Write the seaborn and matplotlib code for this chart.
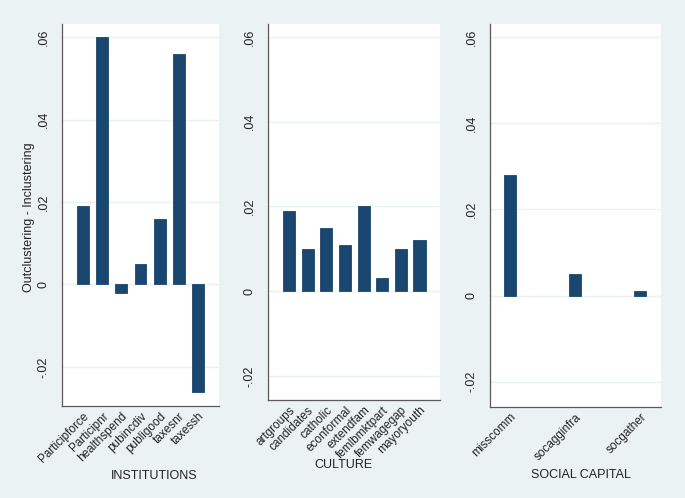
import matplotlib
matplotlib.use("Agg")
import matplotlib.pyplot as plt
import seaborn as sns
import pandas as pd

sns.set_style("white")
plt.rcParams['font.family'] = ['Liberation Sans', 'DejaVu Sans']

inst_cats = ["Participforce", "Participnr", "healthspend", "pubincdiv", "publigood", "taxesnr", "taxessh"]
inst_vals = [0.019, 0.060, -0.002, 0.005, 0.016, 0.056, -0.026]

cult_cats = ["artgroups", "candidates", "catholic", "econformal", "extendfam", "femlbmktpart", "femwagegap", "mayoryouth"]
cult_vals = [0.019, 0.010, 0.015, 0.011, 0.020, 0.003, 0.010, 0.012]

soc_cats = ["misscomm", "socagginfra", "socgather"]
soc_vals = [0.028, 0.005, 0.001]

panel_titles = ["INSTITUTIONS", "CULTURE", "SOCIAL CAPITAL"]
y_ticks = [-0.02, 0, 0.02, 0.04, 0.06]
y_ticklabels = ["-.02", "0", ".02", ".04", ".06"]
y_title = "Outclustering - Inclustering"

BG = "#EAF2F3"
BAR = "#1A476F"
AXC = "#5a5a5a"
TXT = "#222222"

fig = plt.figure(figsize=(6.85, 4.98), dpi=100)
fig.patch.set_facecolor(BG)

W, H = 685.0, 498.0
def pos(x0, x1, y0, y1):
    return [x0 / W, 1 - y1 / H, (x1 - x0) / W, (y1 - y0) / H]

panels = [
    (inst_cats, inst_vals, pos(62, 219, 24, 406), (-0.0295, 0.0632), 0.62, (-1.09, 7.09), (154, 476)),
    (cult_cats, cult_vals, pos(268, 440, 24, 400), (-0.0257, 0.0631), 0.65, (-1.13, 8.10), (343, 465)),
    (soc_cats, soc_vals, pos(490, 661, 24, 407), (-0.0259, 0.0631), 0.18, (-0.31, 2.32), (581, 475)),
]

for i, (cats, vals, rect, ylim, bw, xlim, tpos) in enumerate(panels):
    ax = fig.add_axes(rect)
    df = pd.DataFrame({"cat": cats, "val": vals})
    sns.barplot(data=df, x="cat", y="val", color=BAR, width=bw, ax=ax,
                saturation=1, edgecolor=BAR, linewidth=0.6, zorder=3)
    ax.set_facecolor("white")
    ax.set_ylim(*ylim)
    ax.set_xlim(*xlim)
    ax.set_yticks(y_ticks)
    ax.set_yticklabels(y_ticklabels, rotation=90, va="center", fontsize=9, color=TXT)
    ax.set_xticks(range(len(cats)))
    ax.set_xticklabels(cats, rotation=45, ha="right", rotation_mode="anchor", fontsize=8.5, color=TXT)
    ax.tick_params(axis="y", length=4.3, width=0.8, color=AXC, pad=4.5)
    ax.tick_params(axis="x", length=0, pad=3)
    ax.yaxis.grid(True, color=BG, linewidth=1.0, zorder=0)
    ax.set_axisbelow(True)
    for s in ["top", "right"]:
        ax.spines[s].set_visible(False)
    for s in ["left", "bottom"]:
        ax.spines[s].set_color(AXC)
        ax.spines[s].set_linewidth(0.9)
    ax.set_xlabel("")
    ax.set_ylabel("")
    fig.text(tpos[0] / W, 1 - tpos[1] / H, panel_titles[i], ha="center", va="center",
             fontsize=9, color=TXT)

fig.text(29 / W, 1 - 217 / H, y_title, rotation=90, ha="center", va="center",
         fontsize=9, color=TXT)

fig.savefig("out.png", dpi=100, facecolor=BG)
